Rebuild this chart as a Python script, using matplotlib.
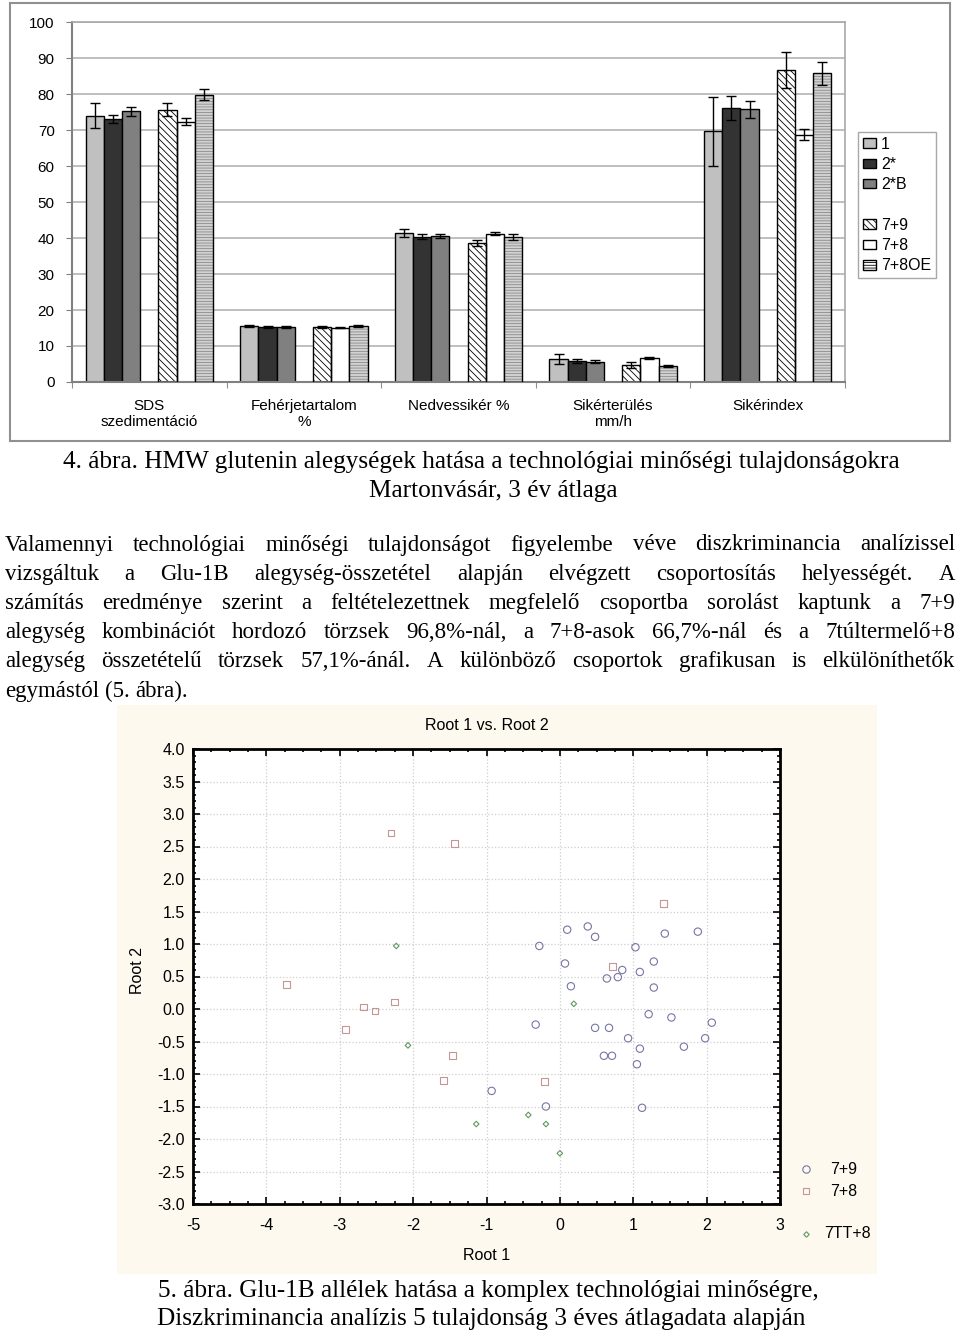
import numpy as np
import matplotlib
matplotlib.use('Agg')
import matplotlib.pyplot as plt
from matplotlib.patches import Rectangle, Patch
from matplotlib.lines import Line2D
from matplotlib.ticker import MultipleLocator

plt.rcParams['font.family'] = ['Liberation Sans', 'DejaVu Sans']
plt.rcParams['hatch.linewidth'] = 0.6
plt.rcParams['axes.unicode_minus'] = False

W, H = 960, 1335

# 4. ábra adatai (Martonvásár, 3 év átlaga)
kategoriak = ['SDS\nszedimentáció', 'Fehérjetartalom\n%', 'Nedvessikér %',
              'Sikérterülés\nmm/h', 'Sikérindex']
sorozatok = ['1', '2*', '2*B', '7+9', '7+8', '7+8OE']

ertek_1 = [74.0, 15.6, 41.4, 6.4, 69.6]
ertek_2 = [73.1, 15.3, 40.4, 5.9, 76.2]
ertek_2B = [75.2, 15.3, 40.6, 5.6, 75.7]
ertek_79 = [75.6, 15.3, 38.7, 4.7, 86.6]
ertek_78 = [72.3, 15.1, 41.2, 6.6, 68.7]
ertek_78OE = [79.8, 15.6, 40.3, 4.4, 85.7]

hiba_1 = [3.4, 0.3, 1.0, 1.4, 9.6]
hiba_2 = [1.1, 0.2, 0.7, 0.6, 3.3]
hiba_2B = [1.2, 0.2, 0.5, 0.4, 2.3]
hiba_79 = [1.8, 0.2, 0.8, 0.9, 5.0]
hiba_78 = [1.0, 0.1, 0.4, 0.3, 1.5]
hiba_78OE = [1.6, 0.3, 0.8, 0.3, 3.2]

# 5. ábra adatai (Root 1, Root 2)
x_79 = [-0.28, 0.10, 0.38, 0.48, 1.43, 1.88, 1.03, 0.07, 0.85, 0.79, 0.64, 1.09,
        1.28, 0.15, 1.28, 1.21, 1.52, 2.07, -0.33, 0.48, 0.67, 0.93, 1.98, 1.09,
        1.69, 0.60, 0.71, 1.05, -0.93, -0.19, 1.12]
y_79 = [0.97, 1.22, 1.27, 1.11, 1.16, 1.19, 0.95, 0.70, 0.60, 0.49, 0.47, 0.57,
        0.73, 0.35, 0.33, -0.08, -0.13, -0.21, -0.24, -0.29, -0.29, -0.45, -0.45, -0.61,
        -0.58, -0.72, -0.72, -0.85, -1.26, -1.50, -1.52]
x_78 = [-2.30, -1.44, -3.73, 1.41, 0.72, -2.68, -2.52, -2.25, -2.92, -1.46, -1.59, -0.21]
y_78 = [2.71, 2.55, 0.38, 1.62, 0.65, 0.03, -0.03, 0.11, -0.32, -0.72, -1.10, -1.12]
x_7tt = [-2.23, 0.19, -2.07, -0.43, -1.14, -0.19, 0.00]
y_7tt = [0.97, 0.08, -0.56, -1.63, -1.77, -1.77, -2.22]

bekezdes = [
    'Valamennyi technológiai minőségi tulajdonságot figyelembe véve diszkriminancia analízissel',
    'vizsgáltuk a Glu-1B alegység-összetétel alapján elvégzett csoportosítás helyességét. A',
    'számítás eredménye szerint a feltételezettnek megfelelő csoportba sorolást kaptunk a 7+9',
    'alegység kombinációt hordozó törzsek 96,8%-nál, a 7+8-asok 66,7%-nál és a 7túltermelő+8',
    'alegység összetételű törzsek 57,1%-ánál. A különböző csoportok grafikusan is elkülöníthetők',
    'egymástól (5. ábra).',
]
abra4 = ['4. ábra. HMW glutenin alegységek hatása a technológiai minőségi tulajdonságokra',
         'Martonvásár, 3 év átlaga']
abra5 = ['5. ábra. Glu-1B allélek hatása a komplex technológiai minőségre,',
         'Diszkriminancia analízis 5 tulajdonság 3 éves átlagadata alapján']


def fx(px):
    return px / W


def fy(py):
    return 1 - py / H


fig = plt.figure(figsize=(W / 100, H / 100), dpi=100)
fig.patch.set_facecolor('white')

# ---- oszlopdiagram ----
fig.add_artist(Rectangle((fx(10), fy(441)), 940 / W, 438 / H, transform=fig.transFigure,
                         fill=False, edgecolor='#909090', lw=1.5))
ax1 = fig.add_axes([fx(72), fy(382), (845 - 72) / W, (382 - 22) / H])

ertekek = [ertek_1, ertek_2, ertek_2B, ertek_79, ertek_78, ertek_78OE]
hibak = [hiba_1, hiba_2, hiba_2B, hiba_79, hiba_78, hiba_78OE]
szinek = ['#c0c0c0', '#333333', '#808080', 'white', 'white', '#d2d2d2']
mintak = [None, None, None, '\\\\\\\\\\', None, '------']
mintaszin = [None, None, None, 'black', None, '#8a8a8a']
helyek = [0, 1, 2, 4, 5, 6]   # 3. hely üres (Excel üres sorozat)

w = 1 / 8.5
xk = np.arange(len(kategoriak))
for v, e, c, m, mc, h in zip(ertekek, hibak, szinek, mintak, mintaszin, helyek):
    xs = xk + (h - 3) * w
    if m:
        ax1.bar(xs, v, w, color=c, edgecolor=mc, lw=0, hatch=m, zorder=2)
        ax1.bar(xs, v, w, fill=False, edgecolor='black', lw=1, zorder=3)
    else:
        ax1.bar(xs, v, w, color=c, edgecolor='black', lw=1, zorder=2)
    ax1.errorbar(xs, v, yerr=e, fmt='none', ecolor='black', elinewidth=1,
                 capsize=3.6, capthick=1, zorder=4)

ax1.set_xlim(-0.5, 4.5)
ax1.set_ylim(0, 100)
ax1.set_yticks(range(0, 101, 10))
ax1.set_yticklabels([str(t) for t in range(0, 101, 10)], fontsize=11)
ax1.yaxis.grid(True, color='#b4b4b4', lw=1.2)
ax1.set_axisbelow(True)
ax1.set_xticks(np.arange(-0.5, 5, 1))
ax1.set_xticklabels([])
ax1.set_xticks(xk, minor=True)
ax1.set_xticklabels(kategoriak, minor=True, fontsize=11, linespacing=1.25)
ax1.tick_params(axis='x', which='minor', length=0, pad=12)
ax1.tick_params(axis='x', which='major', length=4, color='#909090')
ax1.tick_params(axis='y', length=4.5, color='#808080', pad=8)
for s in ['left', 'bottom']:
    ax1.spines[s].set_color('#808080')
    ax1.spines[s].set_linewidth(1.5)
for s in ['top', 'right']:
    ax1.spines[s].set_color('#a8a8a8')
    ax1.spines[s].set_linewidth(1.2)

fogantyuk = []
for c, m, mc in zip(szinek, mintak, mintaszin):
    fc = 'white' if m else c
    fogantyuk.append(Patch(facecolor=fc, edgecolor='black', hatch=m, lw=1))
fogantyuk.insert(3, Patch(visible=False))
cimkek = sorozatok[:3] + [''] + sorozatok[3:]
leg = fig.legend(fogantyuk, cimkek, loc='upper left', bbox_to_anchor=(fx(858), fy(132)),
                 borderaxespad=0, fontsize=11.5, handlelength=0.8, handleheight=0.55,
                 handletextpad=0.35, borderpad=0.3, labelspacing=0.33, fancybox=False,
                 edgecolor='#a8a8a8', framealpha=1)
leg.get_frame().set_linewidth(1)

# ---- szöveg ----
serif = ['Liberation Serif', 'DejaVu Serif']
renderer = fig.canvas.get_renderer()


def szelesseg(s, fs):
    t = fig.text(0, 0, s, fontsize=fs, family=serif)
    wd = t.get_window_extent(renderer).width
    t.remove()
    return wd


fs0 = 16
fs_p = min(min(fs0 * 948 / szelesseg(s, fs0) for s in bekezdes[:-1]), 16.5)
ter = szelesseg('a a', fs_p) - szelesseg('aa', fs_p)
fs_c = fs0 * 836 / szelesseg(abra4[0], fs0)

for i, s in enumerate(bekezdes):
    y = 545 + i * 29.2
    szavak = s.split(' ')
    ws = [szelesseg(sz, fs_p) for sz in szavak]
    if i < len(bekezdes) - 1:
        gap = (950 - sum(ws)) / (len(szavak) - 1)
    else:
        gap = ter
    x = 5
    for sz, wd in zip(szavak, ws):
        fig.text(fx(x), fy(y), sz, fontsize=fs_p, family=serif, va='center', ha='left')
        x += wd + gap

fig.text(fx(481), fy(462), abra4[0], fontsize=fs_c, family=serif, ha='center', va='center')
fig.text(fx(493), fy(491), abra4[1], fontsize=fs_c, family=serif, ha='center', va='center')
fig.text(fx(488), fy(1291), abra5[0], fontsize=fs_c, family=serif, ha='center', va='center')
fig.text(fx(481), fy(1319), abra5[1], fontsize=fs_c, family=serif, ha='center', va='center')

# ---- szórásdiagram ----
fig.add_artist(Rectangle((fx(117), fy(1274)), 760 / W, 569 / H, transform=fig.transFigure,
                         facecolor='#fdf9ee', edgecolor='none', zorder=-5))
ax2 = fig.add_axes([fx(193), fy(1204), (780 - 193) / W, (1204 - 749) / H])
ax2.scatter(x_79, y_79, s=28, marker='o', facecolors='none', edgecolors='#7676a4', linewidths=0.8, zorder=3)
ax2.scatter(x_78, y_78, s=23, marker='s', facecolors='none', edgecolors='#c49696', linewidths=0.8, zorder=3)
ax2.scatter(x_7tt, y_7tt, s=8, marker='D', facecolors='none', edgecolors='#5e995e', linewidths=0.8, zorder=3)

ax2.set_xlim(-5, 3)
ax2.set_ylim(-3, 4)
ax2.xaxis.set_major_locator(MultipleLocator(1))
ax2.xaxis.set_minor_locator(MultipleLocator(0.25))
ax2.yaxis.set_minor_locator(MultipleLocator(0.1))
ax2.set_yticks(np.arange(-3, 4.01, 0.5))
ax2.set_yticklabels(['%.1f' % t for t in np.arange(-3, 4.01, 0.5)])
ax2.tick_params(which='both', direction='in', top=True, right=True, width=1.2, labelsize=11.5)
ax2.tick_params(which='major', length=5)
ax2.tick_params(which='minor', length=2.5)
ax2.tick_params(axis='x', pad=10)
ax2.tick_params(axis='y', pad=6)
ax2.grid(True, which='major', ls=':', color='#cfcfcf', lw=0.9)
for s in ax2.spines.values():
    s.set_linewidth(2)
ax2.set_title('Root 1 vs. Root 2', fontsize=11.5, pad=14)
fig.text(fx(487), fy(1255), 'Root 1', fontsize=11.5, ha='center', va='center')
fig.text(fx(137), fy(970), 'Root 2', fontsize=11.5, ha='center', va='center', rotation=90)

# jelmagyarázat
jelek = [('o', '#7676a4', 5.3, 1169, 830, '7+9'),
         ('s', '#c49696', 4.8, 1191, 830, '7+8'),
         ('D', '#5e995e', 2.8, 1234, 824, '7TT+8')]
for mk, c, ms, y, xt, nev in jelek:
    fig.add_artist(Line2D([fx(806)], [fy(y)], marker=mk, ms=ms, mfc='none', mec=c, mew=0.8,
                          ls='none', transform=fig.transFigure))
    fig.text(fx(xt), fy(y), nev, fontsize=11.5, ha='left', va='center')

fig.savefig('out.png', dpi=100)
